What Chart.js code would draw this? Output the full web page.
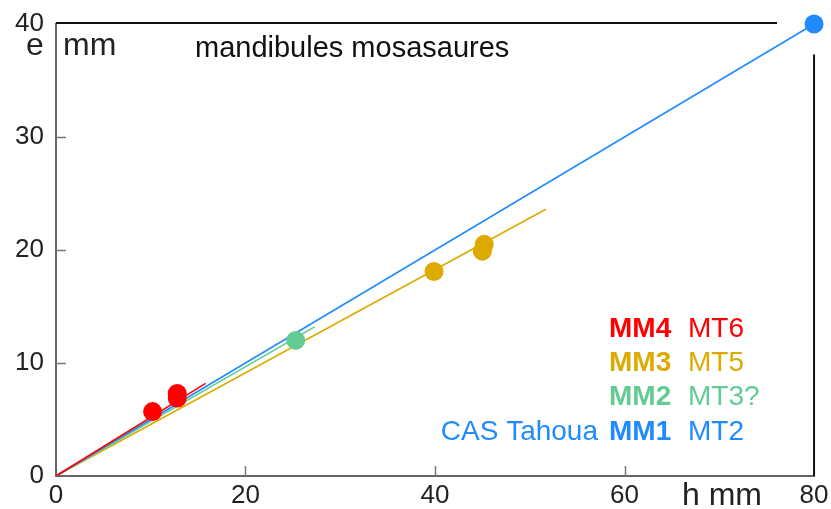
<!DOCTYPE html>
<html>
<head>
<meta charset="utf-8">
<script src="https://cdn.jsdelivr.net/npm/chart.js@4.4.0/dist/chart.umd.min.js"></script>
<style>
  html, body { margin: 0; padding: 0; background: #fff; }
  #wrap { width: 831px; height: 509px; }
</style>
</head>
<body>
<div id="wrap"><canvas id="mandChart"></canvas></div>
<script>
// h (mm) and e (mm) measured on each mandible
const mm1H = [80];
const mm1E = [40];
const mm2H = [25.3];
const mm2E = [12.0];
const mm3H = [39.9, 45.0, 45.2];
const mm3E = [18.1, 19.9, 20.5];
const mm4H = [10.2, 12.8, 12.8];
const mm4E = [5.7, 6.9, 7.3];

// fitted lines through the origin, end points
const fitEndH = [80, 27.3, 51.7, 15.8];
const fitEndE = [40, 13.2, 23.6, 8.2];

const xTicks = [0, 20, 40, 60, 80];
const yTicks = [0, 10, 20, 30, 40];

const groupColors = ['#1f8bff', '#62cc94', '#dcaa00', '#ff0000'];
const groupCodes = ['MM1', 'MM2', 'MM3', 'MM4'];
const groupTeeth = ['MT2', 'MT3?', 'MT5', 'MT6'];

const toPts = (hs, es) => hs.map((h, i) => ({ x: h, y: es[i] }));

const pointSets = [
  toPts(mm4H, mm4E), toPts(mm3H, mm3E), toPts(mm2H, mm2E), toPts(mm1H, mm1E)
];
const pointColors = [groupColors[3], groupColors[2], groupColors[1], groupColors[0]];

const datasets = [];
pointSets.forEach((pts, i) => {
  datasets.push({
    data: pts,
    backgroundColor: pointColors[i],
    borderWidth: 0,
    pointRadius: 9.5,
    showLine: false,
    clip: false
  });
});
// lines: red drawn on top, blue underneath
[3, 0, 1, 2].forEach(i => {
  datasets.push({
    data: [{ x: 0, y: 0 }, { x: fitEndH[i], y: fitEndE[i] }],
    borderColor: groupColors[i],
    borderWidth: 1.6,
    pointRadius: 0,
    showLine: true,
    clip: false
  });
});

const frame = {
  id: 'frame',
  afterDraw(chart) {
    const { ctx, chartArea: a, scales: { x, y } } = chart;
    ctx.save();
    // open frame at top and right
    ctx.strokeStyle = '#111';
    ctx.lineWidth = 2;
    ctx.beginPath();
    ctx.moveTo(a.left, a.top - 1);
    ctx.lineTo(x.getPixelForValue(76.1), a.top - 1);
    ctx.moveTo(a.right, y.getPixelForValue(37.3));
    ctx.lineTo(a.right, a.bottom);
    ctx.stroke();

    // inner tick marks
    ctx.strokeStyle = '#777';
    ctx.lineWidth = 1.5;
    ctx.beginPath();
    xTicks.slice(1, -1).forEach(v => {
      const px = Math.round(x.getPixelForValue(v)) + 0.5;
      ctx.moveTo(px, a.bottom);
      ctx.lineTo(px, a.bottom - 10);
    });
    yTicks.slice(1, -1).forEach(v => {
      const py = Math.round(y.getPixelForValue(v)) + 0.5;
      ctx.moveTo(a.left, py);
      ctx.lineTo(a.left + 10, py);
    });
    ctx.stroke();

    // axis names and title
    ctx.fillStyle = '#222';
    ctx.textBaseline = 'alphabetic';
    ctx.textAlign = 'left';
    ctx.font = '32px "Liberation Sans", Arial, sans-serif';
    ctx.fillText('e', 26, 55);
    ctx.fillText('mm', 63, 55);
    ctx.fillText('h mm', 682, 505);
    ctx.fillStyle = '#111';
    ctx.font = '29px "Liberation Sans", Arial, sans-serif';
    ctx.fillText('mandibules mosasaures', 195, 57);

    // group key, bottom row first
    const rowY = [432, 397, 363, 329];
    ctx.textBaseline = 'middle';
    groupCodes.forEach((code, i) => {
      ctx.fillStyle = groupColors[i];
      ctx.textAlign = 'left';
      ctx.font = 'bold 28px "Liberation Sans", Arial, sans-serif';
      ctx.fillText(code, 609, rowY[i]);
      ctx.font = '28px "Liberation Sans", Arial, sans-serif';
      ctx.fillText(groupTeeth[i], 688, rowY[i]);
    });
    ctx.fillStyle = groupColors[0];
    ctx.textAlign = 'right';
    ctx.fillText('CAS Tahoua', 598, rowY[0]);
    ctx.restore();
  }
};

new Chart(document.getElementById('mandChart'), {
  type: 'scatter',
  data: { datasets },
  options: {
    responsive: true,
    maintainAspectRatio: false,
    animation: false,
    layout: { padding: { left: 3, top: 20, right: 10, bottom: -7 } },
    plugins: { legend: { display: false }, tooltip: { enabled: false } },
    scales: {
      x: {
        type: 'linear',
        min: 0,
        max: 80,
        afterBuildTicks: s => { s.ticks = xTicks.map(v => ({ value: v })); },
        grid: { display: false, drawTicks: false },
        border: { display: true, color: '#666', width: 2 },
        ticks: {
          padding: 2.5,
          color: '#222',
          font: { family: '"Liberation Sans", Arial, sans-serif', size: 26, lineHeight: 1.346 }
        }
      },
      y: {
        type: 'linear',
        min: 0,
        max: 40,
        afterBuildTicks: s => { s.ticks = yTicks.map(v => ({ value: v })); },
        grid: { display: false, drawTicks: false },
        border: { display: true, color: '#666', width: 2 },
        ticks: {
          padding: 12,
          color: '#222',
          font: { family: '"Liberation Sans", Arial, sans-serif', size: 26, lineHeight: 0.923 }
        }
      }
    }
  },
  plugins: [frame]
});
</script>
</body>
</html>
